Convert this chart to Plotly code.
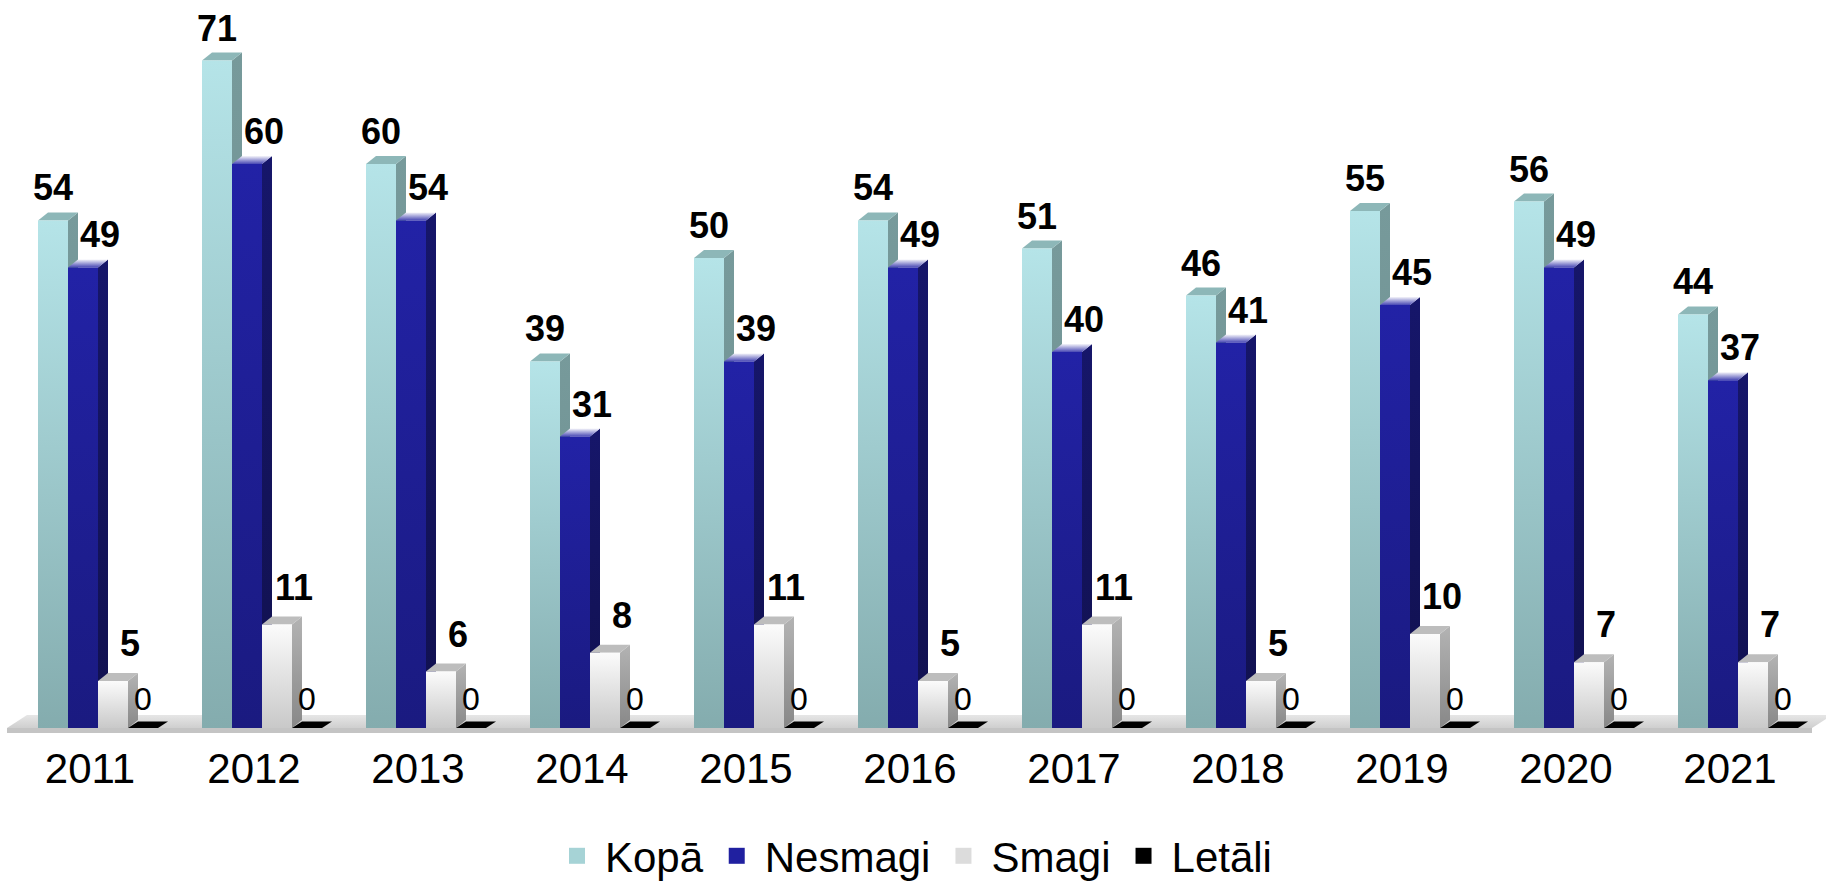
import plotly.graph_objects as go

# ---------------- data ----------------
years = ["2011", "2012", "2013", "2014", "2015", "2016", "2017", "2018", "2019", "2020", "2021"]
kopa = [54, 71, 60, 39, 50, 54, 51, 46, 55, 56, 44]
nesmagi = [49, 60, 54, 31, 39, 49, 40, 41, 45, 49, 37]
smagi = [5, 11, 6, 8, 11, 5, 11, 5, 10, 7, 7]
letali = [0, 0, 0, 0, 0, 0, 0, 0, 0, 0, 0]
series_names = ["Kopā", "Nesmagi", "Smagi", "Letāli"]

# ---------------- geometry / style ----------------
W_PX, H_PX = 1826, 881
PX_PER_CAT = 164.0
PX_PER_UNIT = 9.4
BASE_PX = 728.0          # pixel row of value 0
PLOT_BOTTOM = 740.0      # pixel row of plot-area bottom
CAT0_PX = 90.0           # pixel column of first category centre
LEGEND_PX = 856.0        # pixel row of legend centre

BAR_W = 30 / PX_PER_CAT
GROUP_LEFT = (38 - CAT0_PX) / PX_PER_CAT
DX = 10 / PX_PER_CAT
DY = 8 / PX_PER_UNIT

FONT = "Liberation Sans, Arial, Helvetica, sans-serif"

styles = [
    dict(front=("#84acae", "#b5e4e8"), side=("#6a8c8d", "#779a9b"), top=("#8db7b8", "#8db7b8"), legend="#a6d3d6"),
    dict(front=("#1a1a80", "#2222a6"), side=("#11114f", "#16166a"), top=("#4848b4", "#f4f4fa"), legend="#2020a0"),
    dict(front=("#c9c9c9", "#fbfbfb"), side=("#888888", "#b3b3b3"), top=("#bdbdbd", "#bdbdbd"), legend="#dcdcdc"),
    dict(front=("#000000", "#000000"), side=("#000000", "#000000"), top=("#000000", "#000000"), legend="#000000"),
]
label_shift = [(0, 10), (17, 10), (17, 15), (0, 9)]
label_font = [
    dict(family=FONT, size=36, color="black", weight="bold"),
    dict(family=FONT, size=36, color="black", weight="bold"),
    dict(family=FONT, size=36, color="black", weight="bold"),
    dict(family=FONT, size=32, color="black"),
]

fig = go.Figure()


def poly(xs, ys, color=None, grad=None, start=None, stop=None):
    kw = dict(x=xs + [xs[0]], y=ys + [ys[0]], mode="lines", fill="toself",
              line=dict(width=0), hoverinfo="skip", showlegend=False)
    if grad is not None:
        kw["fillgradient"] = dict(type="vertical", colorscale=[[0, grad[0]], [1, grad[1]]],
                                  start=start, stop=stop)
    else:
        kw["fillcolor"] = color
    fig.add_trace(go.Scatter(**kw))


# ---------------- floor ----------------
f_left = (7 - CAT0_PX) / PX_PER_CAT
f_right = (1812 - CAT0_PX) / PX_PER_CAT
f_dx = 20 / PX_PER_CAT
f_dy = 13 / PX_PER_UNIT
f_th = 5 / PX_PER_UNIT
poly([f_left, f_right, f_right + f_dx, f_left + f_dx], [0, 0, f_dy, f_dy],
     grad=("#cfcfcf", "#e6e6e6"), start=0, stop=f_dy)
poly([f_left, f_right, f_right, f_left], [-f_th, -f_th, 0, 0], color="#c4c4c4")

# ---------------- 3D bars ----------------
all_series = [kopa, nesmagi, smagi, letali]
for i in range(len(years)):
    for k, vals in enumerate(all_series):
        v = vals[i]
        st = styles[k]
        x0 = i + GROUP_LEFT + k * BAR_W
        x1 = x0 + BAR_W
        if v > 0:
            # side face
            poly([x1, x1 + DX, x1 + DX, x1], [0, DY, v + DY, v],
                 grad=st["side"], start=0, stop=v + DY)
            # top face
            poly([x0, x1, x1 + DX, x0 + DX], [v, v, v + DY, v + DY],
                 grad=st["top"], start=v, stop=v + DY)
            # front face
            poly([x0, x1, x1, x0], [0, 0, v, v], grad=st["front"], start=0, stop=v)
        else:
            poly([x0, x1, x1 + DX, x0 + DX], [0, 0, DY * 0.8, DY * 0.8], color=st["top"][0])

# ---------------- legend entries ----------------
for k, name in enumerate(series_names):
    fig.add_trace(go.Scatter(x=[None], y=[None], mode="markers", name=name,
                             marker=dict(symbol="square", size=20, color=styles[k]["legend"])))

# ---------------- data labels ----------------
for k, vals in enumerate(all_series):
    for i, v in enumerate(vals):
        fig.add_annotation(x=i + GROUP_LEFT + k * BAR_W + BAR_W / 2, y=v, text=str(v),
                           showarrow=False, xanchor="center", yanchor="bottom",
                           xshift=label_shift[k][0], yshift=label_shift[k][1],
                           font=label_font[k])

fig.update_layout(
    width=W_PX, height=H_PX,
    margin=dict(l=0, r=0, t=0, b=H_PX - PLOT_BOTTOM, pad=0, autoexpand=False),
    paper_bgcolor="white", plot_bgcolor="white",
    showlegend=True,
    legend=dict(orientation="h", x=0.5, xanchor="center",
                y=(PLOT_BOTTOM - LEGEND_PX) / PLOT_BOTTOM, yanchor="middle",
                font=dict(family=FONT, size=42, color="black"),
                itemsizing="trace", itemwidth=46, bgcolor="rgba(0,0,0,0)"),
    xaxis=dict(range=[-CAT0_PX / PX_PER_CAT, (W_PX - CAT0_PX) / PX_PER_CAT],
               tickmode="array", tickvals=list(range(len(years))), ticktext=years,
               showgrid=False, zeroline=False, showline=False, ticks="",
               tickfont=dict(family=FONT, size=42, color="black"),
               automargin=False, fixedrange=True),
    yaxis=dict(range=[-(PLOT_BOTTOM - BASE_PX) / PX_PER_UNIT, BASE_PX / PX_PER_UNIT],
               visible=False, automargin=False, fixedrange=True),
)

fig.write_html("out.html", config={"displayModeBar": False},
               post_script="document.body.style.margin='0';document.body.style.overflow='hidden';")
